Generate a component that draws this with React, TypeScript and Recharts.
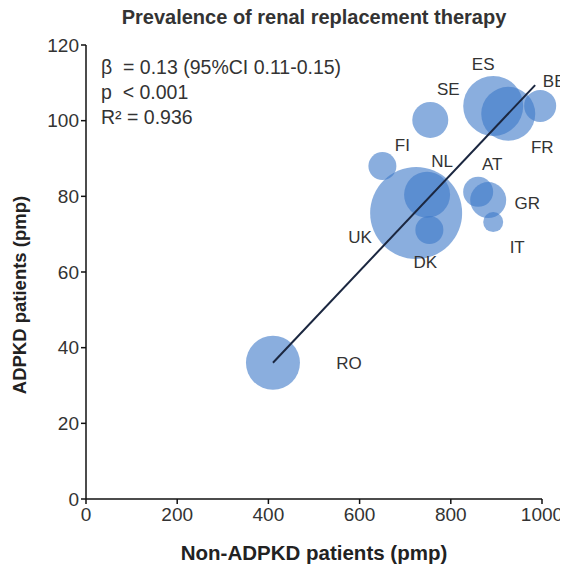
import React from "react";
import { ScatterChart, Scatter, XAxis, YAxis, ZAxis } from "recharts";

// Country codes
const countries = ["UK", "ES", "FR", "RO", "NL", "SE", "GR", "BE", "AT", "FI", "DK", "IT"];
// Non-ADPKD RRT prevalence (pmp)
const nonAdpkd = [724, 893, 926, 410, 748, 755, 882, 996, 860, 650, 753, 893];
// ADPKD RRT prevalence (pmp)
const adpkd = [75.6, 103.9, 101.8, 36.0, 80.4, 100.2, 79.0, 103.9, 81.2, 88.0, 71.1, 73.2];
// Relative bubble size
const bubbleSize = [2116, 900, 729, 729, 529, 324, 324, 256, 225, 196, 196, 100];

// Regression line endpoints
const fitX = [410, 985];
const fitY = [36.0, 109.4];

const xTicks = [0, 200, 400, 600, 800, 1000];
const yTicks = [0, 20, 40, 60, 80, 100, 120];

const title = "Prevalence of renal replacement therapy";
const xTitle = "Non-ADPKD patients (pmp)";
const yTitle = "ADPKD patients (pmp)";
const statLines = ["β  = 0.13 (95%CI 0.11-0.15)", "p  < 0.001", "R² = 0.936"];

// label placement relative to bubble centre (px)
const labelOffset: Record<string, [number, number]> = {
  ES: [-10, -41],
  FR: [34, 34],
  BE: [14, -24],
  SE: [18, -30],
  FI: [20, -21],
  UK: [-56, 25],
  NL: [15, -33],
  DK: [-4, 32],
  AT: [14, -27],
  GR: [39, 3],
  IT: [24, 25],
  RO: [76, 1],
};

const data = countries.map((c, i) => ({ country: c, x: nonAdpkd[i], y: adpkd[i], size: bubbleSize[i] }));
const fitData = fitX.map((x, i) => ({ x, y: fitY[i], size: 0 }));

const FONT = '"Liberation Sans", Arial, sans-serif';

const Bubble = (props: any) => {
  const { cx, cy, payload } = props;
  const r = props.width ? props.width / 2 : Math.sqrt((props.size || 0) / Math.PI);
  const off = labelOffset[payload.country] || [0, 0];
  return (
    <g>
      <circle cx={cx} cy={cy} r={r} fill="#3c78c8" fillOpacity={0.6} />
      <text
        x={cx + off[0]}
        y={cy + off[1]}
        textAnchor="middle"
        dominantBaseline="central"
        fontSize={17}
        fill="#333"
        fontFamily={FONT}
      >
        {payload.country}
      </text>
    </g>
  );
};

export default function App() {
  return (
    <div style={{ position: "relative", width: 560, height: 557, fontFamily: FONT }}>
      <ScatterChart width={560} height={557} margin={{ top: 37, left: 18, right: 26, bottom: 36 }}>
        <XAxis
          type="number"
          dataKey="x"
          domain={[0, 1000]}
          ticks={xTicks}
          height={30}
          stroke="#111"
          strokeWidth={1.5}
          tickSize={5}
          tick={{ fill: "#333", fontSize: 19, fontFamily: FONT }}
          tickMargin={4}
        />
        <YAxis
          type="number"
          dataKey="y"
          domain={[0, 120]}
          ticks={yTicks}
          width={60}
          stroke="#111"
          strokeWidth={1.5}
          tickSize={5}
          tick={{ fill: "#333", fontSize: 19, fontFamily: FONT }}
          tickMargin={2}
        />
        <ZAxis type="number" dataKey="size" domain={[0, 2116]} range={[0, 2116 * Math.PI]} />
        <Scatter data={data} shape={Bubble} isAnimationActive={false} />
        <Scatter
          data={fitData}
          line={{ stroke: "#1b2740", strokeWidth: 2 }}
          shape={() => <g />}
          isAnimationActive={false}
        />
      </ScatterChart>
      <div
        style={{
          position: "absolute",
          left: 0,
          width: 612,
          top: -3,
          textAlign: "center",
          fontWeight: "bold",
          fontSize: 20,
          color: "#333",
          lineHeight: "24px",
        }}
      >
        {title}
      </div>
      <div style={{ position: "absolute", left: 93, top: 47, fontSize: 19.5, color: "#333", lineHeight: "25px", whiteSpace: "pre" }}>
        {statLines.map((s, i) => (
          <div key={i}>{s}</div>
        ))}
      </div>
      <div
        style={{
          position: "absolute",
          left: 78,
          width: 456,
          top: 533,
          textAlign: "center",
          fontWeight: "bold",
          fontSize: 20.5,
          color: "#222",
          lineHeight: "24px",
        }}
      >
        {xTitle}
      </div>
      <div
        style={{
          position: "absolute",
          left: 12 - 150,
          top: 287 - 12,
          width: 300,
          textAlign: "center",
          transform: "rotate(-90deg)",
          fontWeight: "bold",
          fontSize: 18.5,
          color: "#222",
          lineHeight: "24px",
        }}
      >
        {yTitle}
      </div>
    </div>
  );
}
